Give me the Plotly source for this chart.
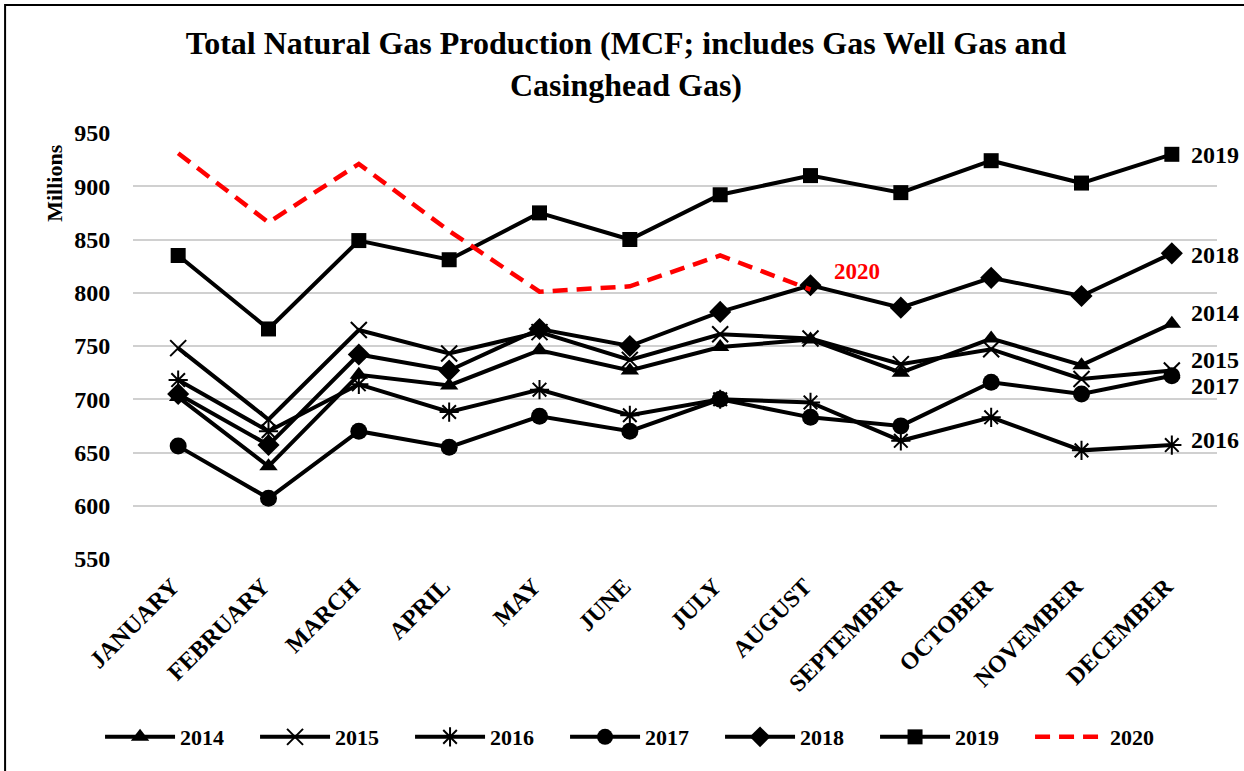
import plotly.graph_objects as go

months = ["JANUARY", "FEBRUARY", "MARCH", "APRIL", "MAY", "JUNE", "JULY",
          "AUGUST", "SEPTEMBER", "OCTOBER", "NOVEMBER", "DECEMBER"]

y2014 = [702, 637, 723, 713, 746, 727, 749, 756, 725, 757, 732, 771]
y2015 = [748, 681, 765, 743, 763, 737, 761, 757, 733, 747, 719, 727]
y2016 = [718, 670, 714, 688, 709, 685, 700, 697, 661, 683, 652, 657]
y2017 = [656, 607, 670, 655, 684, 670, 700, 683, 675, 716, 705, 722]
y2018 = [705, 657, 742, 727, 766, 750, 782, 807, 786, 814, 797, 837]
y2019 = [835, 766, 849, 831, 875, 850, 892, 910, 894, 924, 903, 930]
y2020 = [931, 866, 921, 858, 801, 806, 835, 803]

series_names = ["2014", "2015", "2016", "2017", "2018", "2019", "2020"]
series_vals = [y2014, y2015, y2016, y2017, y2018, y2019, y2020]
symbols = ["triangle-up", "x-thin-open", "asterisk-open", "circle", "diamond", "square", None]
sizes = [16, 16, 16, 17, 17, 15, 0]

# end-of-line label positions (data units on the value axis)
end_labels = ["2019", "2018", "2014", "2015", "2017", "2016"]
end_label_y = [929, 835, 781, 737, 712, 662]

FONT = "Liberation Serif, Times New Roman, serif"

fig = go.Figure()
for name, vals, sym, sz in zip(series_names, series_vals, symbols, sizes):
    if name == "2020":
        fig.add_trace(go.Scatter(
            x=months[:len(vals)], y=vals, name=name, mode="lines",
            line=dict(color="#ff0000", width=4.5, dash="15px,9px"),
        ))
    else:
        thin = sym in ("x-thin-open", "asterisk-open")
        fig.add_trace(go.Scatter(
            x=months, y=vals, name=name, mode="lines+markers",
            line=dict(color="black", width=4),
            marker=dict(symbol=sym, size=sz, color="black",
                        line=dict(color="black", width=2 if thin else 0)),
        ))

annotations = []
for lab, yv in zip(end_labels, end_label_y):
    annotations.append(dict(
        x=0.974, xref="paper", y=yv, yref="y", text=lab, showarrow=False,
        xanchor="left", yanchor="middle",
        font=dict(family=FONT, size=24, color="black", weight="bold"),
    ))
annotations.append(dict(
    x=0.668, xref="paper", y=820, yref="y", text="2020", showarrow=False,
    xanchor="center", yanchor="middle",
    font=dict(family=FONT, size=23, color="#ff0000", weight="bold"),
))
annotations.append(dict(
    x=-0.072, xref="paper", y=0.883, yref="paper", text="Millions", showarrow=False,
    textangle=-90, xanchor="center", yanchor="middle",
    font=dict(family=FONT, size=22, color="black", weight="bold"),
))

fig.update_layout(
    width=1244, height=771,
    margin=dict(l=133, r=27, t=133, b=212),
    paper_bgcolor="white", plot_bgcolor="white",
    title=dict(
        text="Total Natural Gas Production (MCF; includes Gas Well Gas and<br>Casinghead Gas)",
        x=0.5 + 4 / 1244, xref="container", xanchor="center",
        y=1 - 54 / 771, yref="container", yanchor="top",
        font=dict(family=FONT, size=32, color="black", weight="bold"),
    ),
    xaxis=dict(
        type="category", categoryorder="array", categoryarray=months,
        range=[-0.5, 11.5],
        showgrid=False, zeroline=False, showline=False,
        tickangle=-45, ticks="outside", ticklen=3, tickcolor="rgba(0,0,0,0)",
        ticklabelshift=-6,
        tickfont=dict(family=FONT, size=24, color="black", weight="bold"),
    ),
    yaxis=dict(
        range=[550, 950], dtick=50, showgrid=True, gridcolor="#d0d0d0", gridwidth=1.5,
        zeroline=False, showline=False,
        ticks="outside", ticklen=17, tickcolor="rgba(0,0,0,0)",
        tickfont=dict(family=FONT, size=24, color="black", weight="bold"),
    ),
    legend=dict(
        orientation="h", x=-0.0304, xanchor="left", y=-0.418, yanchor="middle",
        font=dict(family=FONT, size=22, color="black", weight="bold"),
        entrywidth=70, entrywidthmode="pixels", itemwidth=70,
        bgcolor="rgba(0,0,0,0)",
    ),
    annotations=annotations,
    shapes=[dict(type="rect", xref="paper", yref="paper",
                 x0=-0.118, x1=1.3, y0=-0.7, y1=1.3005,
                 line=dict(color="black", width=2), fillcolor="rgba(0,0,0,0)",
                 layer="above")],
)

fig.write_html("out.html", config={"displayModeBar": False},
               post_script="document.body.style.margin='0';")
